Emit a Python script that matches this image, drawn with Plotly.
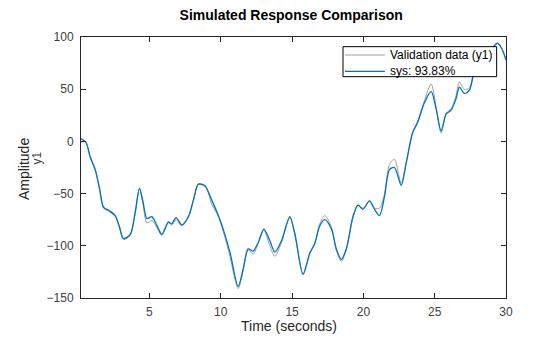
import plotly.graph_objects as go

# Time samples (seconds)
t = [0.2, 0.55, 0.85, 1.2, 1.5, 1.78, 2.13, 2.6, 2.9, 3.18, 3.65, 4.0, 4.3, 4.55,
     4.82, 5.17, 5.5, 5.87, 6.33, 6.56, 6.87, 7.27, 7.73, 8.1, 8.43, 8.9, 9.36,
     9.83, 10.17, 10.64, 11.22, 11.57, 11.92, 12.27, 12.62, 13.02, 13.44, 13.79,
     14.26, 14.84, 15.19, 15.77, 16.24, 16.59, 16.94, 17.29, 17.76, 18.1, 18.45,
     18.8, 19.27, 19.62, 19.97, 20.43, 20.78, 21.13, 21.48, 21.83, 22.18, 22.65,
     23.0, 23.45, 23.8, 24.28, 24.75, 25.1, 25.45, 25.8, 26.15, 26.5, 26.73,
     27.08, 27.43, 27.7, 28.0, 28.5, 29.0, 29.4, 29.7, 30.0]

# Model output (sys)
sys_y = [2.8, -1, -15, -27, -45, -63, -66, -71, -82, -93, -89, -68, -45, -58,
         -74, -72, -80, -89, -77, -79, -73, -80, -72, -55, -41, -43, -56,
         -71, -84, -106, -139, -122, -103, -105, -97, -84, -95, -106,
         -95, -72, -88, -127, -107, -98, -81, -75, -84, -103, -113,
         -103, -72, -61, -65, -57, -65, -71, -53, -27, -25, -42,
         -21, 8, 18, 37, 48, 31, 10, 26, 30, 41, 52,
         46, 49, 63, 76, 84, 89, 94, 89, 78]

# Validation data (y1)
val_y = [2.5, -1, -16, -28, -46, -64, -67, -72, -83, -94, -90, -69, -45, -60,
         -78, -76, -82, -90, -78, -80, -75, -81, -73, -56, -41, -42, -60,
         -72, -86, -110, -141, -124, -104, -108, -98, -85, -100, -110,
         -97, -73, -89, -128, -108, -97, -79, -71, -82, -104, -115,
         -104, -73, -61, -64, -57, -64, -64, -50, -22, -17, -40,
         -20, 9, 19, 39, 55, 33, 8, 27, 31, 44, 57,
         50, 51, 64, 77, 84, 89, 94, 89, 78]

x_ticks = [5, 10, 15, 20, 25, 30]
y_ticks = [-150, -100, -50, 0, 50, 100]

FONT = "Liberation Sans, Arial, Helvetica, sans-serif"
AX = "#262626"
GRAY = "#a0a0a0"
BLUE = "#0072BD"

fig = go.Figure()
fig.add_trace(go.Scatter(x=t, y=val_y, mode="lines", name="Validation data (y1)",
                         line=dict(color=GRAY, width=1, shape="spline", smoothing=0.8)))
fig.add_trace(go.Scatter(x=t, y=sys_y, mode="lines", name="sys: 93.83%",
                         line=dict(color=BLUE, width=1.3, shape="spline", smoothing=0.8)))

axis_common = dict(showline=True, linecolor=AX, linewidth=1, mirror="ticks",
                   ticks="inside", ticklen=5, tickcolor=AX, tickwidth=1,
                   showgrid=False, zeroline=False,
                   tickfont=dict(family=FONT, size=12, color="#404040"))

# Compact legend box (paper coordinates)
LX0, LX1, LY0, LY1 = 0.6165, 0.978, 0.848, 0.963
SX0, SX1, TX = 0.621, 0.715, 0.722
ROW_Y = [0.931, 0.868]
names = ["Validation data (y1)", "sys: 93.83%"]
colors = [GRAY, BLUE]
widths = [1, 1.3]

shapes = [dict(type="rect", xref="paper", yref="paper", x0=LX0, x1=LX1, y0=LY0, y1=LY1,
               fillcolor="white", line=dict(color="black", width=1), layer="above")]
legend_ann = []
for nm, c, w, yy in zip(names, colors, widths, ROW_Y):
    shapes.append(dict(type="line", xref="paper", yref="paper", x0=SX0, x1=SX1, y0=yy, y1=yy,
                       line=dict(color=c, width=w), layer="above"))
    legend_ann.append(dict(text=nm, xref="paper", yref="paper", x=TX, y=yy,
                           xanchor="left", yanchor="middle", showarrow=False,
                           font=dict(family=FONT, size=12, color="black")))

fig.update_layout(
    width=560, height=337,
    margin=dict(l=81, r=54, t=37, b=39),
    paper_bgcolor="white", plot_bgcolor="white",
    font=dict(family=FONT, color=AX),
    title=dict(text="<b>Simulated Response Comparison</b>", x=0.52, xanchor="center",
               y=1 - 15 / 337, yanchor="middle", yref="container",
               font=dict(family=FONT, size=14, color="black")),
    xaxis=dict(range=[0.2, 30], tickvals=x_ticks, ticklabelstandoff=3, **axis_common),
    yaxis=dict(range=[-150, 100], tickvals=y_ticks, ticklabelstandoff=4, **axis_common),
    showlegend=False,
    shapes=shapes,
    annotations=[
        dict(text="Amplitude", xref="paper", yref="paper", x=0, y=0.494,
             xshift=-57, xanchor="center", yanchor="middle", textangle=-90,
             showarrow=False, font=dict(family=FONT, size=14, color=AX)),
        dict(text="y1", xref="paper", yref="paper", x=0, y=0.5345,
             xshift=-44, xanchor="center", yanchor="middle", textangle=-90,
             showarrow=False, font=dict(family=FONT, size=12, color="#404040")),
        dict(text="Time (seconds)", xref="paper", yref="paper", x=0.489, y=0,
             yshift=-28, xanchor="center", yanchor="middle",
             showarrow=False, font=dict(family=FONT, size=14, color=AX)),
    ] + legend_ann,
)

fig.write_html("out.html")
